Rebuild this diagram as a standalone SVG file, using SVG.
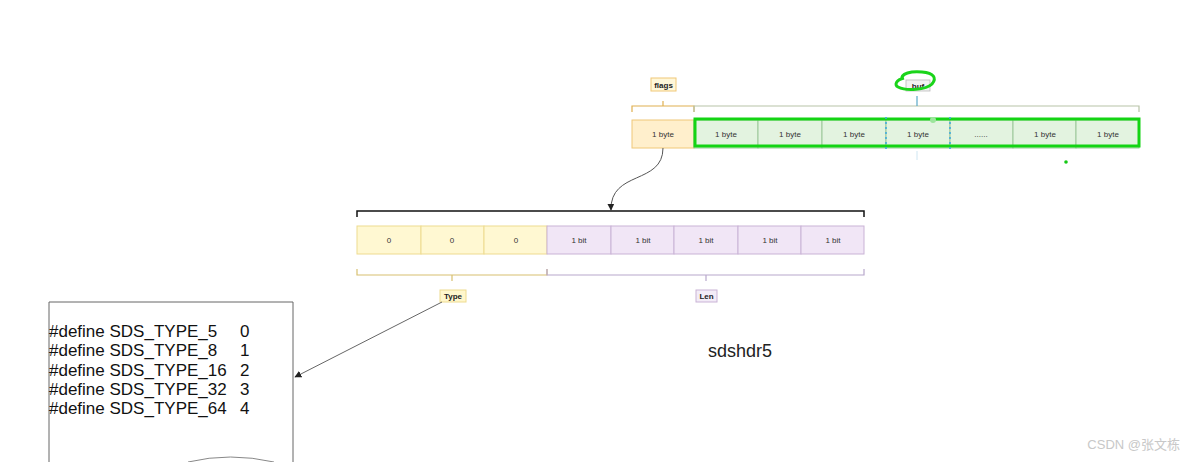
<svg xmlns="http://www.w3.org/2000/svg" width="1184" height="462" viewBox="0 0 1184 462">
<style>
.t{font-family:"Liberation Sans",Arial,sans-serif;fill:#333;text-anchor:middle}
.s{font-size:8px}
.lbl{font-size:8px;font-weight:bold;fill:#222}
.y{fill:#fff8d2;stroke:#eedb90;stroke-width:1}
.o{fill:#ffefcc;stroke:#f0c878;stroke-width:1}
.g{fill:#e3f3e0;stroke:#9cc79a;stroke-width:1}
.p{fill:#f1e6f6;stroke:#c9b3d6;stroke-width:1}
.code{font-family:"Liberation Sans",Arial,sans-serif;font-size:17px;fill:#111}
</style>
<defs>
<marker id="ah" viewBox="0 0 10 10" refX="9" refY="5" markerWidth="7" markerHeight="7" orient="auto-start-reverse" markerUnits="userSpaceOnUse">
<path d="M0,0L10,5L0,10z" fill="#222"/>
</marker>
</defs>
<rect width="1184" height="462" fill="#fff"/>

<g id="flags">
<rect x="651" y="78" width="25" height="13" fill="#fff7d9" stroke="#f0c878"/>
<text class="t lbl" x="663.5" y="88">flags</text>
<path d="M632,112V106H694V112M663,106V101" fill="none" stroke="#e0b050" stroke-width="1.2"/>
<rect class="o" x="632" y="120" width="62" height="28"/>
<text class="t s" x="663" y="137">1 byte</text>
</g>

<g id="buf">
<path d="M694,112V106H1139V112" fill="none" stroke="#b8c4a8" stroke-width="1.2"/>
<line x1="917" y1="106" x2="917" y2="96" stroke="#5aa8c8" stroke-width="1.2"/>
<rect x="906" y="80" width="24" height="11" fill="#f2f2f2" stroke="#bbb" stroke-width="0.8"/>
<text class="t lbl" x="918" y="89">buf</text>
<path d="M902,80C900,73 912,71 922,72C934,73 937,78 932,84C926,90 906,91 898,87C894,85 896,80 904,78" fill="none" stroke="#1ad41a" stroke-width="3"/>
<rect class="g" x="694" y="120" width="64" height="28"/>
<rect class="g" x="758" y="120" width="64" height="28"/>
<rect class="g" x="822" y="120" width="64" height="28"/>
<rect class="g" x="886" y="120" width="64" height="28"/>
<rect class="g" x="950" y="120" width="63" height="28"/>
<rect class="g" x="1013" y="120" width="63" height="28"/>
<rect class="g" x="1076" y="120" width="63" height="28"/>
<rect x="695" y="119" width="444" height="27" fill="none" stroke="#14d414" stroke-width="3"/>
<path d="M886,117V151M950,117V151" stroke="#3aa8e0" stroke-width="1.5" stroke-dasharray="2,3"/>
<line x1="917" y1="151" x2="917" y2="160" stroke="#cfe6f2" stroke-width="1"/>
<circle cx="933" cy="120" r="3" fill="#9ce59c"/>
<circle cx="1066" cy="162" r="1.8" fill="#14c814"/>
<text class="t s" x="726" y="137">1 byte</text>
<text class="t s" x="790" y="137">1 byte</text>
<text class="t s" x="854" y="137">1 byte</text>
<text class="t s" x="918" y="137">1 byte</text>
<text class="t s" x="981" y="137" fill="#aaa">......</text>
<text class="t s" x="1045" y="137">1 byte</text>
<text class="t s" x="1108" y="137">1 byte</text>
</g>

<g id="bits">
<path d="M357,217V211H864V217" fill="none" stroke="#111" stroke-width="1.5"/>
<rect class="y" x="357" y="226" width="64" height="28"/>
<rect class="y" x="421" y="226" width="63" height="28"/>
<rect class="y" x="484" y="226" width="63" height="28"/>
<rect class="p" x="547" y="226" width="64" height="28"/>
<rect class="p" x="611" y="226" width="63" height="28"/>
<rect class="p" x="674" y="226" width="64" height="28"/>
<rect class="p" x="738" y="226" width="63" height="28"/>
<rect class="p" x="801" y="226" width="63" height="28"/>
<text class="t s" x="389" y="243">0</text>
<text class="t s" x="452" y="243">0</text>
<text class="t s" x="516" y="243">0</text>
<text class="t s" x="579" y="243">1 bit</text>
<text class="t s" x="643" y="243">1 bit</text>
<text class="t s" x="706" y="243">1 bit</text>
<text class="t s" x="770" y="243">1 bit</text>
<text class="t s" x="833" y="243">1 bit</text>
</g>

<g id="type">
<path d="M357,269V275H547V269M452,275V281" fill="none" stroke="#d8c070" stroke-width="1.2"/>
<rect x="440" y="290" width="26" height="12" fill="#fff7cc" stroke="#eedb90"/>
<text class="t lbl" x="453" y="299">Type</text>
</g>

<g id="len">
<path d="M547,269V275H864V269M706,275V281" fill="none" stroke="#b8a8cc" stroke-width="1.2"/>
<rect x="696" y="290" width="21" height="12" fill="#f3ecf7" stroke="#c9b3d6"/>
<text class="t lbl" x="706.5" y="299">Len</text>
</g>

<g id="defines">
<path d="M49,462V302H293V462" fill="none" stroke="#666" stroke-width="1"/>
<path d="M188,462Q230,452 274,462" fill="none" stroke="#888" stroke-width="1"/>
<text class="code" x="49" y="337">#define SDS_TYPE_5</text>
<text class="code" x="49" y="356">#define SDS_TYPE_8</text>
<text class="code" x="49" y="376">#define SDS_TYPE_16</text>
<text class="code" x="49" y="395">#define SDS_TYPE_32</text>
<text class="code" x="49" y="414">#define SDS_TYPE_64</text>
<text class="code" x="240" y="337">0</text>
<text class="code" x="240" y="356">1</text>
<text class="code" x="240" y="376">2</text>
<text class="code" x="240" y="395">3</text>
<text class="code" x="240" y="414">4</text>
</g>

<g id="title">
<text x="708" y="357" font-family="'Liberation Sans',Arial,sans-serif" font-size="18" fill="#222">sdshdr5</text>
</g>

<g id="connectors">
<path d="M663,148C663,185 610,170 611,210" fill="none" stroke="#555" stroke-width="1" marker-end="url(#ah)"/>
<path d="M442,302L295,377" fill="none" stroke="#666" stroke-width="1" marker-end="url(#ah)"/>
</g>

<text x="1180" y="449" text-anchor="end" font-family="'Liberation Sans','Noto Sans CJK SC',sans-serif" font-size="13" fill="#c8c8c8">CSDN @张文栋</text>
</svg>
